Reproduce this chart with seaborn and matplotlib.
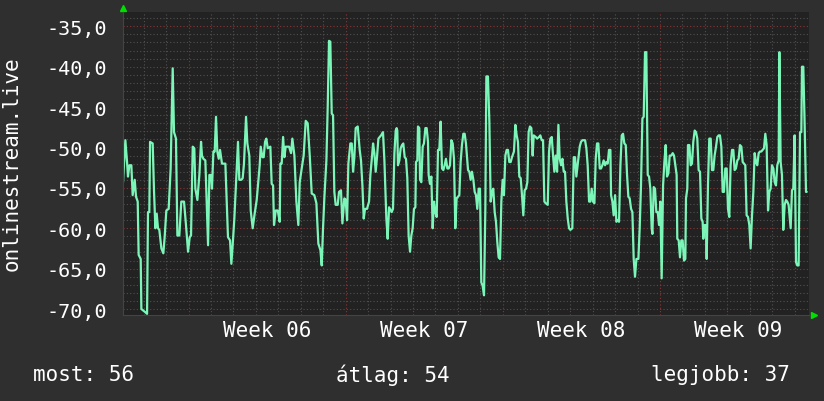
import pandas as pd
import numpy as np
import matplotlib
matplotlib.use("Agg")
import matplotlib.pyplot as plt
import matplotlib.dates as mdates
from matplotlib.ticker import MultipleLocator, FuncFormatter, NullFormatter
import seaborn as sns

# signal level of onlinestream.live, hours after the first sample
start = pd.Timestamp("2025-01-31 02:00")
end_hours = 733.3

hours = [
    0, 2.5, 4.3, 5.3, 6.8, 8.9, 10.3, 12.5, 13.9, 15.7, 16.7, 18.9, 19.6, 23.9, 25.7, 26.7,
    28.1, 28.9, 31.7, 33.1, 34.6, 36.0, 37.4, 38.8, 41.0, 43.1, 44.5, 46.3, 48.8, 50.9, 53.1,
    54.5, 56.6, 58.1, 60.2, 62.3, 65.2, 67.3, 69.5, 71.3, 72.7, 74.5, 76.2, 77.3, 79.5, 81.6,
    83.4, 84.4, 85.9, 88.0, 90.9, 92.3, 94.1, 95.1, 96.6, 98.0, 99.4, 100.8, 102.3, 103.7,
    105.8, 109.4, 112.2, 114.4, 115.8, 117.2, 119.0, 120.8, 122.9, 124.3, 126.5, 127.9, 129.3,
    131.5, 132.9, 135.0, 136.5, 138.6, 140.7, 142.9,
    146.1, 147.2, 149.0, 150.4, 151.8, 153.2, 154.7, 157.5, 158.9, 160.4, 161.4, 163.2, 165.4,
    167.5, 168.2, 169.6, 171.1, 172.5, 173.9, 177.5, 179.6, 181.0, 183.2, 185.3, 187.4, 188.9,
    191.0, 193.1, 195.3, 197.4, 199.6, 201.7, 204.5, 206.7, 208.8, 211.0, 212.4, 213.8, 215.2,
    217.4, 218.8, 220.2, 221.6, 223.1, 224.5, 225.9, 227.3, 229.5, 230.9, 233.0, 234.5, 236.6,
    238.0, 239.5, 240.9, 243.0, 244.5, 245.9, 247.3, 248.7, 250.9, 253.0, 254.4, 255.9, 257.3,
    258.7, 260.8, 263.0, 264.4, 265.8, 267.3, 268.7, 270.1, 271.5, 273.0, 275.8, 277.9, 279.4,
    281.5, 282.9, 284.4, 287.2, 288.6, 290.1, 291.5,
    292.5, 293.2, 293.9, 295.4, 296.8, 298.2, 299.6, 301.1, 302.5, 303.9, 305.3, 306.8, 308.2,
    309.6, 311.0, 312.5, 313.2, 314.6, 315.3, 316.7, 317.5, 318.9, 320.3, 321.7, 323.2, 324.6,
    326.0, 326.7, 328.1, 329.6, 331.0, 332.4, 333.8, 335.3, 336.7, 338.1, 339.5, 341.0, 342.4,
    343.8, 345.2, 346.7, 348.1, 349.5, 351.0, 352.4, 353.8, 355.2, 356.6, 358.1, 359.5, 360.9,
    362.3, 363.8, 365.2, 366.6, 368.8, 370.2, 371.6, 373.0, 374.5, 375.9, 377.3, 378.7, 380.2,
    381.6, 383.0, 384.4, 385.9, 387.3, 388.4, 390.1, 391.6, 393.0, 394.4, 395.8, 397.3, 398.7,
    400.1, 401.5, 403.0, 404.4, 405.8, 407.2, 408.7, 410.1, 411.5, 412.9, 414.4, 415.8, 417.9,
    419.4, 420.8, 422.2, 423.6, 425.1, 426.5, 427.9, 429.3, 430.8, 432.2, 433.6, 435.0, 436.5,
    437.9,
    439.0, 441.2, 442.6, 444.7, 446.1, 447.6, 449.0, 450.4, 451.8, 454.0, 455.4, 456.8, 458.3,
    459.7, 461.1, 462.5, 464.0, 465.4, 466.8, 468.2, 469.7, 471.1, 472.5, 473.9, 475.4, 476.8,
    478.2, 480.3, 481.8, 483.2, 484.6, 486.0, 488.2, 489.6, 491.0, 493.9, 495.3, 496.7, 498.2,
    499.6, 501.0, 502.4, 503.9, 505.3, 506.7, 508.1, 509.6, 511.0, 512.4, 513.8, 515.3, 516.7,
    518.1, 519.5, 521.0, 521.7, 523.1, 524.5, 526.0, 527.4, 528.8, 530.2, 531.7, 533.1, 534.5,
    535.9, 537.4, 538.8, 540.2, 541.6, 543.1, 544.5, 545.9, 547.3, 548.8, 550.9, 552.3, 553.7,
    555.2, 556.6, 558.0, 559.4, 560.9, 562.3, 563.7, 565.1, 565.9, 567.3, 568.7, 570.1, 571.6,
    573.0, 574.4, 575.8, 577.3, 578.7, 580.1, 581.5, 583.0, 584.4,
    586.1, 587.6, 589.0, 590.4, 591.8, 592.5, 594.0, 595.4, 596.8, 598.2, 599.7, 601.1, 601.8,
    603.2, 603.9, 605.4, 606.8, 608.2, 609.6, 611.1, 612.5, 613.9, 615.3, 616.8, 618.2, 619.6,
    620.3, 621.8, 623.2, 623.9, 625.3, 626.7, 628.2, 629.6, 631.0, 632.4, 633.9, 635.3, 636.7,
    638.1, 639.6, 641.0, 642.4, 643.8, 645.3, 646.7, 648.1, 649.5, 651.0, 652.4, 653.8, 655.2,
    656.7, 658.1, 659.5, 661.0, 662.4, 663.8, 665.2, 666.6, 668.1, 669.5, 670.9, 672.3, 673.8,
    675.2, 676.6, 678.0, 679.5, 680.9, 682.3, 683.8, 685.2, 686.6, 688.0, 689.5, 690.9, 692.3,
    693.7, 695.2, 696.6, 698.0, 699.4, 700.9, 701.6, 703.0, 704.4, 705.8, 707.3, 708.7, 710.1,
    711.5, 713.7, 715.1, 716.5, 717.9, 719.4, 720.8, 722.2, 723.7, 725.1, 725.8, 727.2, 728.6,
    730.1, 730.8,
]

signal = [
    -54.3, -49.1, -51.8, -53.6, -52.2, -52.2, -55.9, -54.0, -56.1, -56.7, -63.3, -63.8, -70.0,
    -70.4, -70.6, -58.0, -58.0, -49.3, -49.5, -55.3, -60.0, -58.2, -60.0, -60.2, -62.5, -63.1,
    -61.1, -57.8, -57.6, -52.6, -40.2, -48.1, -48.9, -60.9, -60.9, -56.7, -56.7, -59.6, -62.9,
    -61.1, -60.9, -49.9, -50.1, -55.1, -56.5, -53.4, -49.3, -51.0, -51.4, -51.6, -62.1, -53.4,
    -53.4, -55.1, -50.5, -50.5, -46.2, -50.5, -51.4, -50.3, -52.0, -52.0, -61.1, -61.5, -64.4,
    -62.1, -58.8, -54.5, -49.3, -54.0, -54.0, -53.8, -52.0, -46.2, -49.5, -51.0, -57.8, -60.0,
    -58.2, -56.5,
    -52.2, -49.9, -51.2, -51.2, -49.3, -48.9, -50.1, -49.9, -54.5, -54.7, -59.6, -57.8, -57.8,
    -59.2, -52.0, -52.0, -48.7, -51.2, -49.9, -49.9, -50.7, -48.9, -51.0, -56.7, -59.6, -54.3,
    -52.6, -51.0, -46.7, -47.0, -51.0, -55.7, -55.9, -56.9, -61.9, -62.7, -64.6, -60.0, -56.3,
    -51.6, -45.0, -36.8, -36.9, -45.8, -46.0, -55.5, -57.1, -57.1, -55.5, -55.3, -59.4, -56.3,
    -56.5, -59.0, -52.0, -49.5, -49.5, -53.0, -51.2, -47.6, -47.4, -50.3, -51.6, -54.7, -58.8,
    -57.6, -57.6, -56.7, -53.4, -51.6, -49.5, -50.7, -53.0, -51.2, -48.9, -48.5, -48.1, -51.6,
    -58.8, -61.3, -57.4, -58.0, -57.6, -50.7, -47.9,
    -47.6, -47.9, -52.2, -51.6, -50.1, -49.7, -49.5, -51.2, -51.4, -53.8, -60.9, -62.9, -60.9,
    -60.0, -57.6, -57.4, -51.8, -51.6, -47.4, -47.6, -54.0, -54.3, -49.9, -49.5, -47.6, -47.6,
    -49.3, -53.4, -54.5, -53.6, -60.0, -56.7, -58.0, -58.6, -50.3, -50.3, -46.8, -52.6, -52.8,
    -52.2, -51.4, -52.6, -52.6, -52.2, -49.1, -49.5, -51.4, -60.0, -56.3, -56.1, -55.9, -51.8,
    -49.7, -48.3, -48.3, -49.5, -52.8, -53.0, -54.0, -53.0, -54.0, -55.5, -55.9, -57.6, -55.1,
    -55.1, -66.7, -67.1, -68.3, -57.6, -41.2, -41.2, -46.8, -56.7, -55.5, -55.1, -58.0, -59.2,
    -61.7, -63.6, -63.8, -56.7, -54.0, -55.9, -51.0, -50.3, -50.3, -51.8, -51.8, -51.2, -50.5,
    -47.2, -48.5, -49.3, -53.6, -53.8, -55.9, -58.4, -55.3, -55.1, -54.3, -48.1, -47.4, -47.6,
    -51.0,
    -48.5, -48.7, -48.9, -48.7, -48.5, -49.1, -49.1, -56.7, -56.9, -57.1, -50.5, -48.9, -48.7,
    -51.0, -53.0, -51.0, -53.0, -47.2, -51.4, -52.2, -51.4, -53.0, -53.0, -56.7, -58.8, -60.0,
    -60.2, -60.0, -51.2, -51.2, -53.6, -52.2, -49.9, -49.3, -49.1, -49.1, -50.1, -52.2, -56.7,
    -56.7, -55.1, -56.7, -56.9, -51.4, -49.5, -49.5, -52.6, -52.6, -52.2, -51.6, -52.2, -51.8,
    -52.0, -50.3, -50.3, -55.9, -56.7, -58.4, -55.9, -59.2, -59.0, -59.2, -52.2, -48.5, -48.3,
    -49.5, -49.7, -53.4, -56.1, -56.3, -57.6, -58.0, -63.8, -66.0, -63.8, -63.8, -60.0, -54.7,
    -46.4, -46.2, -38.2, -38.2, -53.4, -53.6, -55.1, -60.0, -60.7, -54.9, -55.1, -58.0, -58.0,
    -59.6, -56.7, -66.2, -54.7, -51.8, -49.7, -53.6, -53.2, -51.0,
    -51.0, -50.7, -51.0, -52.2, -53.4, -61.3, -61.5, -63.6, -61.5, -61.5, -64.0, -63.8, -56.3,
    -55.1, -49.7, -49.7, -52.2, -52.0, -49.3, -47.9, -48.1, -48.9, -52.8, -53.0, -58.8, -59.2,
    -61.3, -59.6, -59.6, -63.8, -54.7, -48.9, -48.9, -52.8, -52.8, -51.0, -49.9, -48.7, -48.5,
    -48.5, -49.9, -55.5, -55.5, -52.6, -52.6, -57.6, -58.6, -52.2, -50.3, -50.3, -52.8, -52.6,
    -51.6, -51.4, -49.7, -49.9, -51.8, -52.0, -52.2, -58.4, -58.6, -59.6, -62.5, -58.6, -55.5,
    -50.7, -51.8, -52.2, -50.7, -50.5, -50.5, -50.3, -50.1, -48.3, -49.7, -57.8, -55.5, -55.1,
    -52.2, -52.6, -54.3, -54.7, -52.2, -51.6, -38.2, -51.8, -53.4, -60.2, -57.1, -56.5, -56.7,
    -57.1, -60.0, -55.3, -55.1, -48.5, -64.2, -64.6, -64.6, -48.1, -48.1, -40.0, -40.0, -47.0,
    -55.5, -55.5,
]

summary = ["most: 56", "átlag: 54", "legjobb: 37"]

df = pd.DataFrame({"time": start + pd.to_timedelta(hours, unit="h"), "signal": signal})

sns.set_style("dark")
plt.rcParams["font.family"] = ["DejaVu Sans Mono", "DejaVu Sans"]

fig = plt.figure(figsize=(8.24, 4.02), dpi=100)
fig.patch.set_facecolor("#2f2f2f")
ax = fig.add_axes([0.1493, 0.2139, 0.8325, 0.7537])
ax.set_facecolor("#222222")

sns.lineplot(data=df, x="time", y="signal", ax=ax, color="#7cf5b8",
             linewidth=1.6, errorbar=None)

ax.set_xlim(start, start + pd.Timedelta(hours=end_hours))
ax.set_ylim(-70.74, -33.23)

# grid: red dotted for majors, grey dotted for minors
ax.xaxis.set_major_locator(mdates.WeekdayLocator(byweekday=mdates.MO))
ax.xaxis.set_minor_locator(mdates.DayLocator())
ax.xaxis.set_major_formatter(NullFormatter())
ax.yaxis.set_major_locator(MultipleLocator(5))
ax.yaxis.set_minor_locator(MultipleLocator(1))
ax.yaxis.set_major_formatter(FuncFormatter(lambda v, p: f"{v:.1f}".replace(".", ",")))

ax.grid(which="minor", color="#505050", linestyle=(0, (1, 2)), linewidth=0.8)
ax.grid(which="major", color="#8a3434", linestyle=(0, (1, 2)), linewidth=0.8)
ax.set_axisbelow(True)

ax.tick_params(which="both", direction="out", length=2, colors="#505050")
ax.tick_params(which="major", colors="#8a3434")
ax.tick_params(axis="y", which="major", labelcolor="white", labelsize=14.5, pad=9.5)

for side in ["top", "right"]:
    ax.spines[side].set_visible(False)
for side in ["left", "bottom"]:
    ax.spines[side].set_color("#444444")

ax.set_xlabel("")
ax.set_ylabel("")

# week labels centred in each week
mondays = pd.date_range(start.normalize(), start + pd.Timedelta(hours=end_hours), freq="W-MON")
for m in mondays:
    ax.text(m + pd.Timedelta(hours=84), -0.05, f"Week {m.isocalendar().week:02d}",
            transform=ax.get_xaxis_transform(), ha="center", va="center",
            color="white", fontsize=15)

# rrdtool style arrows on the axes
ax.plot([0], [1.012], marker="^", color="#00e000", markersize=5,
        transform=ax.transAxes, clip_on=False)
ax.plot([1.008], [0], marker=">", color="#00e000", markersize=5,
        transform=ax.transAxes, clip_on=False)

fig.text(0.0146, 0.594, "onlinestream.live", rotation=90, ha="center", va="center",
         color="white", fontsize=15)

fig.text(0.040, 0.067, summary[0], ha="left", va="center", color="white", fontsize=15)
fig.text(0.477, 0.067, summary[1], ha="center", va="center", color="white", fontsize=15)
fig.text(0.959, 0.067, summary[2], ha="right", va="center", color="white", fontsize=15)

fig.savefig("out.png", dpi=100, facecolor=fig.get_facecolor())
